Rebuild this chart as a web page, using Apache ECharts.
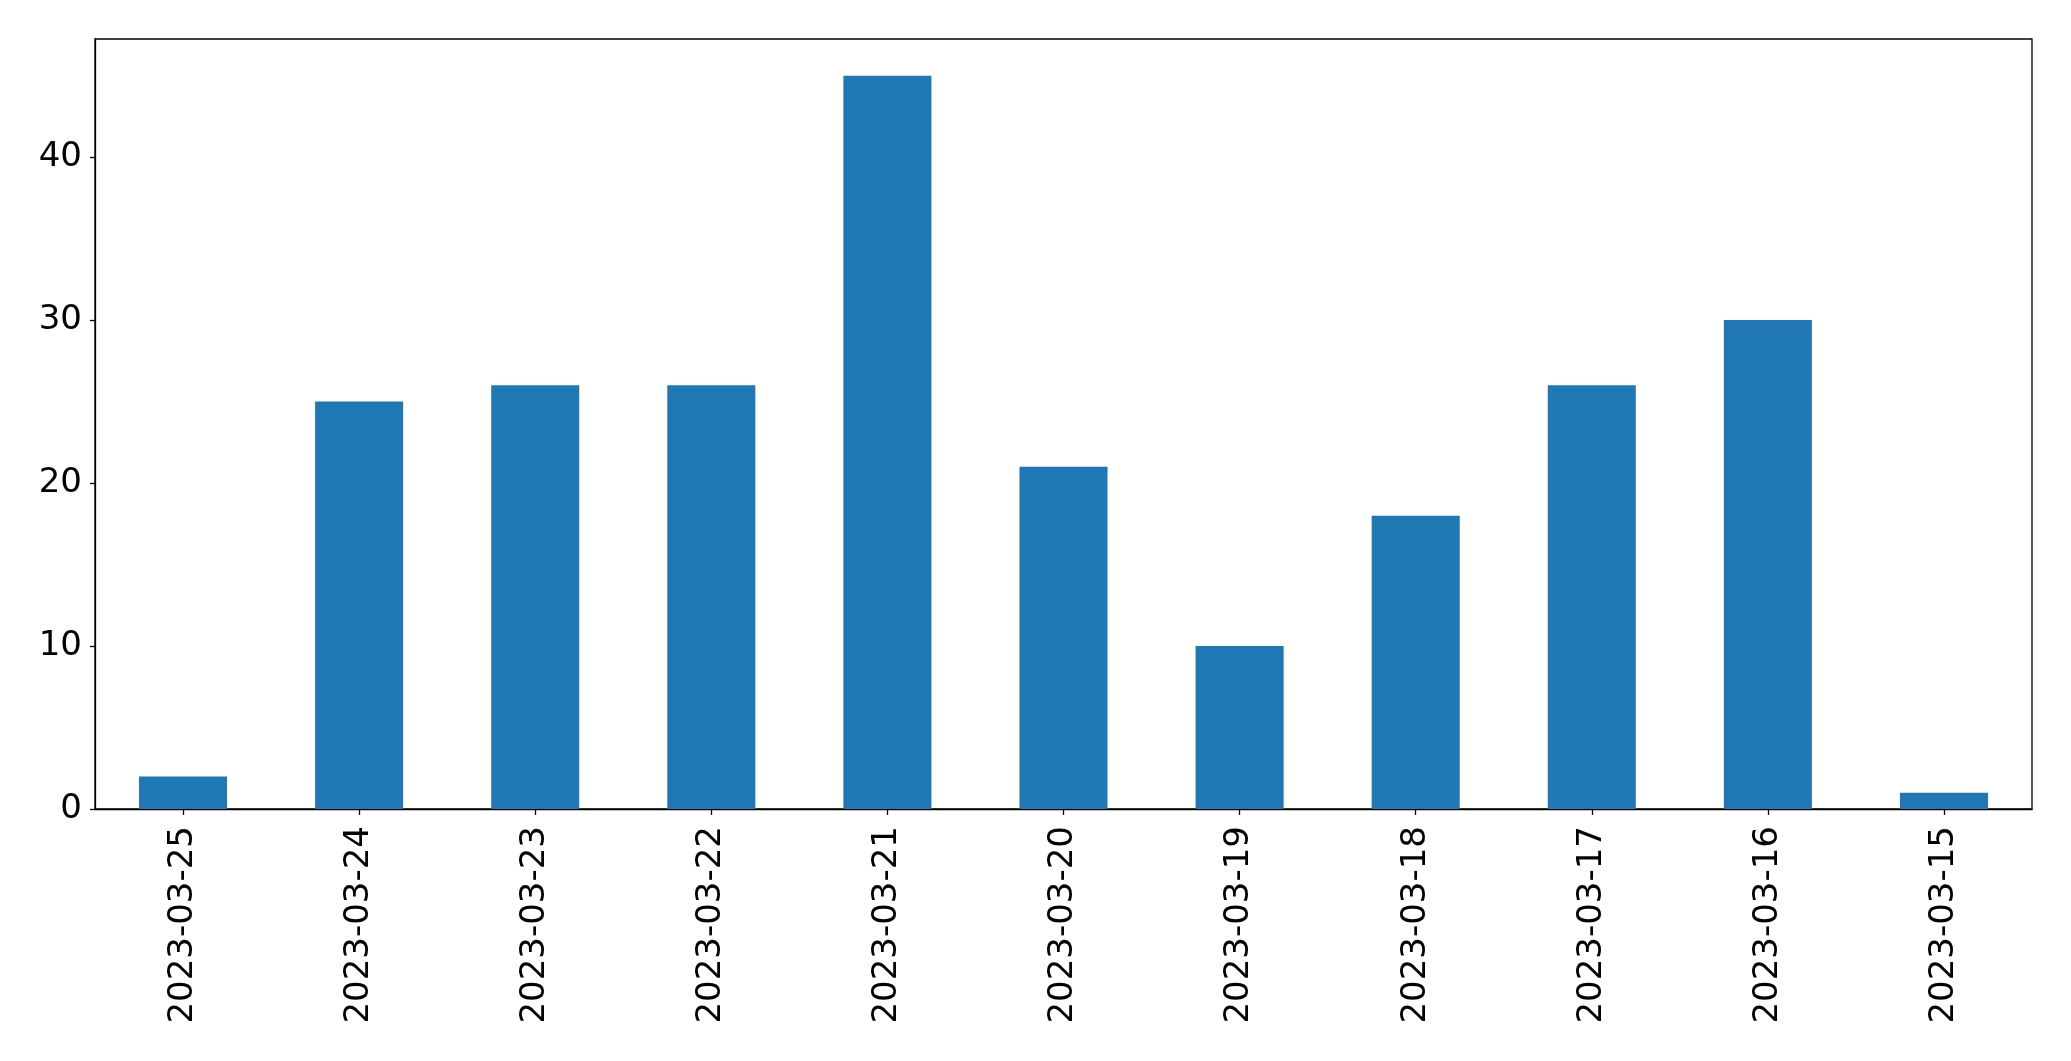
<!DOCTYPE html>
<html><head><meta charset="utf-8">
<script src="https://cdn.jsdelivr.net/npm/echarts@6/dist/echarts.min.js"></script>
<style>html,body{margin:0;padding:0;background:#fff}#c{width:2071px;height:1061px}</style>
</head><body><div id="c"></div>
<script>
const categories = ["2023-03-25","2023-03-24","2023-03-23","2023-03-22","2023-03-21","2023-03-20","2023-03-19","2023-03-18","2023-03-17","2023-03-16","2023-03-15"];
const values = [2, 25, 26, 26, 45, 21, 10, 18, 26, 30, 1];
const yTicks = [0, 10, 20, 30, 40];

const chart = echarts.init(document.getElementById('c'), null, {renderer: 'canvas'});
const font = 'DejaVu Sans';
chart.setOption({
  animation: false,
  grid: {left: 95, top: 39, right: 39, bottom: 252, show: true, borderColor: '#000', borderWidth: 1.3, backgroundColor: 'transparent'},
  xAxis: {
    type: 'category', data: categories,
    axisLine: {show: true, lineStyle: {color: '#000', width: 1.3}},
    axisTick: {show: true, alignWithLabel: true, length: 6, lineStyle: {color: '#000', width: 1.3}},
    axisLabel: {rotate: 90, margin: 17, fontFamily: font, fontSize: 34, color: '#000', interval: 0}
  },
  yAxis: {
    type: 'value', min: 0, max: 47.25,
    splitLine: {show: false},
    axisLine: {show: true, lineStyle: {color: '#000', width: 1.3}},
    axisTick: {show: true, length: 5, customValues: yTicks, lineStyle: {color: '#000', width: 1.3}},
    axisLabel: {margin: 13, fontFamily: font, fontSize: 34, color: '#000', customValues: yTicks}
  },
  series: [{type: 'bar', data: values, barWidth: '50%', itemStyle: {color: '#1f77b4'}}]
});
</script></body></html>
